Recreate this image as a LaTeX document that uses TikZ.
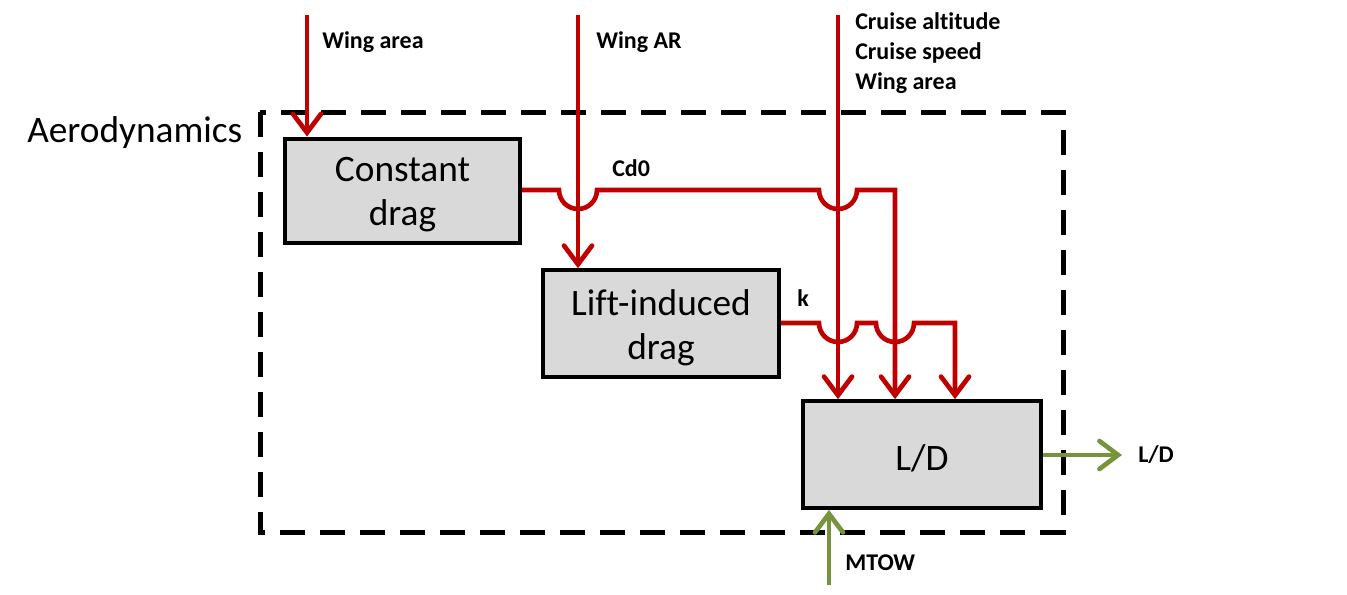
\documentclass[tikz,border=0pt]{standalone}
\usepackage{fontspec}
\setmainfont{Carlito}[Ligatures=NoCommon]
\usetikzlibrary{arrows.meta}
\definecolor{dred}{HTML}{C00000}
\definecolor{olive}{HTML}{77933C}
\definecolor{boxgray}{HTML}{D9D9D9}
\begin{document}
\begin{tikzpicture}[x=0.75pt,y=0.75pt,
  blk/.style={draw=black,line width=3pt,fill=boxgray,inner sep=0pt},
  blktxt/.style={inner sep=0pt,align=center,font=\fontsize{28}{33}\selectfont,yshift=-3pt},
  redln/.style={draw=dred,line width=3.5pt},
  tipst/.style={-{Straight Barb[length=14pt,width=21pt,line width=3.5pt,line cap=round]}},
  redarr/.style={redln,tipst},
  grnarr/.style={draw=olive,line width=3.5pt,tipst},
  lbl/.style={font=\fontsize{18}{22.5}\selectfont\bfseries,anchor=west,inner sep=0pt,align=left},
]
\useasboundingbox (0,0) rectangle (1347,-594);
% dashed frame
\draw[line width=3.75pt,dash pattern=on 19pt off 11pt] (260,-112) rectangle (1063,-532);
\node[font=\fontsize{28}{32}\selectfont,anchor=west,inner sep=0pt] (aero) at (27,-133) {Aerodynamics};
% boxes
\node[blk,minimum width=176pt,minimum height=78pt] (cd) at (402.5,-190.5) {};
\node[blktxt] (cdt) at (cd.center) {Constant\\drag};
\node[blk,minimum width=177pt,minimum height=80pt] (li) at (661,-323.5) {};
\node[blktxt] (lit) at (li.center) {Lift-induced\\drag};
\node[blk,minimum width=178pt,minimum height=80pt] (ld) at (922,-454.5) {};
\node[blktxt] (ldt) at (ld.center) {L/D};
% input coordinates
\coordinate (wa) at (307,-15);
\coordinate (ar) at (578,-15);
\coordinate (cr) at (838,-15);
\coordinate (mt) at (829,-585);
\coordinate (out) at (1122,-455);
% inputs
\draw[redarr] (wa) -- (wa |- cd.north);
\draw[redarr] (ar) -- (ar |- li.north);
\draw[redarr] (cr) -- (cr |- ld.north);
\node[lbl] (lwa) at (322,-42) {Wing area};
\node[lbl] (lar) at (596,-42) {Wing AR};
\node[lbl,anchor=north west] (lcr) at (855,-12) {Cruise altitude\\Cruise speed\\Wing area};
% Cd0 line
\draw[redarr] (cd.east |- 0,-190) -- (559,-190) arc[start angle=180,end angle=360,radius=19]
  -- (819,-190) arc[start angle=180,end angle=360,radius=19] -- (895,-190) -- (895,-190 |- ld.north);
\node[lbl] (lcd) at (612,-168) {Cd0};
% k line
\draw[redarr] (li.east |- 0,-323) -- (819,-323) arc[start angle=180,end angle=360,radius=19]
  -- (876,-323) arc[start angle=180,end angle=360,radius=19] -- (955,-323) -- (955,-323 |- ld.north);
\node[lbl] (lk) at (797,-298) {k};
% outputs
\draw[grnarr] (ld.east |- out) -- (out);
\node[lbl] (lld) at (1138,-455) {L/D};
\draw[grnarr] (mt) -- (mt |- ld.south);
\node[lbl] (lmt) at (845,-563) {MTOW};
\end{tikzpicture}
\end{document}
